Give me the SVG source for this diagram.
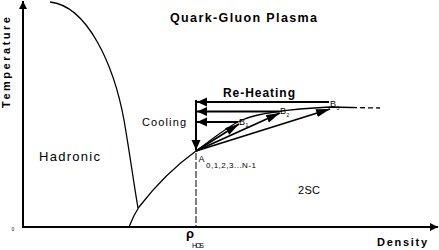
<svg xmlns="http://www.w3.org/2000/svg" width="439" height="250" viewBox="0 0 439 250">
<style>
text{font-family:"Liberation Sans",Arial,Helvetica,sans-serif;fill:#000}
.b{font-weight:bold}
.ax{stroke:#000;stroke-width:2;fill:none}
.cv{stroke:#000;stroke-width:1.3;fill:none}
.ha{stroke:#000;stroke-width:2;fill:none}
.da{stroke:#000;stroke-width:1.8;fill:none}
</style>
<defs>
<marker id="axh" markerUnits="userSpaceOnUse" markerWidth="9" markerHeight="8" refX="8" refY="4" orient="auto"><path d="M0,0 L8,4 L0,8 Z" fill="#000"/></marker>
<marker id="hh" markerUnits="userSpaceOnUse" markerWidth="11" markerHeight="10" refX="10" refY="4.5" orient="auto"><path d="M0,0 L10,4.5 L0,9 Z" fill="#000"/></marker>
<marker id="dh" markerUnits="userSpaceOnUse" markerWidth="15" markerHeight="9" refX="14" refY="4" orient="auto"><path d="M0,0 L14,4 L0,8 Z" fill="#000"/></marker>
</defs>
<g id="axes">
<line class="ax" x1="23" y1="227" x2="23" y2="1" marker-end="url(#axh)"/>
<line class="ax" x1="22" y1="227" x2="438" y2="227" marker-end="url(#axh)"/>
</g>
<g id="boundaries">
<path class="cv" d="M50,2 C88,6 114,66 124,120 C130,155 134,185 138,208"/>
<path class="cv" d="M129,227 C132,219 135,213 139,207 C156,185 175,166 196,151 C213,139 226,127 242,120 C258,113 290,109 330,107 L352,107.5"/>
<path class="cv" d="M352,107.5 L380,108" stroke-dasharray="5 3"/>
<line x1="196" y1="153" x2="196" y2="227" stroke="#000" stroke-width="1" stroke-dasharray="7 2"/>
</g>
<g id="connectors">
<line class="ha" x1="196" y1="100" x2="196" y2="150" marker-end="url(#hh)"/>
<line class="ha" x1="329" y1="102" x2="197" y2="102" marker-end="url(#hh)"/>
<line class="ha" x1="279" y1="111.5" x2="197" y2="111.5" marker-end="url(#hh)"/>
<line class="ha" x1="238" y1="122" x2="197" y2="122" marker-end="url(#hh)"/>
<line class="da" x1="196" y1="151" x2="239" y2="124" marker-end="url(#dh)"/>
<line class="da" x1="196" y1="151" x2="280" y2="113" marker-end="url(#dh)"/>
<line class="da" x1="196" y1="151" x2="330" y2="109" marker-end="url(#dh)"/>
</g>
<g id="labels">
<text class="b" x="170" y="21.5" font-size="12.5" textLength="147" lengthAdjust="spacing">Quark-Gluon Plasma</text>
<text class="b" x="223" y="96.5" font-size="12" textLength="72" lengthAdjust="spacing">Re-Heating</text>
<text x="142" y="125.5" font-size="11" textLength="44" lengthAdjust="spacing">Cooling</text>
<text x="39" y="161" font-size="13" textLength="61" lengthAdjust="spacing">Hadronic</text>
<text x="298" y="194" font-size="11" textLength="22" lengthAdjust="spacing">2SC</text>
<text class="b" x="377" y="246" font-size="11" textLength="50" lengthAdjust="spacing">Density</text>
<text class="b" transform="translate(9.5,62.5) rotate(-90)" text-anchor="middle" font-size="11" textLength="91" lengthAdjust="spacing">Temperature</text>
<text x="11.5" y="231" font-size="5">0</text>
<text x="198.5" y="162" font-size="9">A</text>
<text x="206" y="167.5" font-size="8" textLength="50" lengthAdjust="spacing">0,1,2,3...N-1</text>
<text class="b" x="186" y="238" font-size="13">ρ</text>
<text x="192" y="248" font-size="7" textLength="12" lengthAdjust="spacing">HOS</text>
<text x="239" y="124.5" font-size="9">B</text>
<text x="245.5" y="127" font-size="5">1</text>
<text x="280" y="114" font-size="9">B</text>
<text x="286.5" y="116.5" font-size="5">2</text>
<text x="330" y="106.5" font-size="9">B</text>
<text x="336.5" y="109.5" font-size="5">3</text>
</g>
</svg>
